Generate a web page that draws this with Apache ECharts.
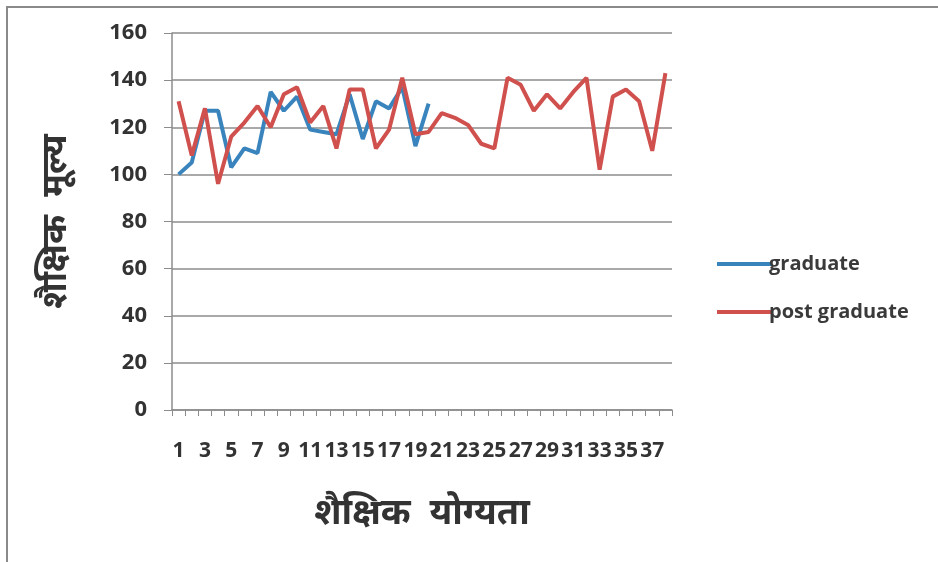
<!DOCTYPE html>
<html>
<head>
<meta charset="utf-8">
<script src="https://cdn.jsdelivr.net/npm/echarts@6/dist/echarts.min.js"></script>
<style>
  html, body { margin: 0; padding: 0; background: #fff; }
  #chart { width: 938px; height: 562px; }
</style>
</head>
<body>
<div id="chart"></div>
<script>
  // categories 1..38
  var categories = ['1','2','3','4','5','6','7','8','9','10','11','12','13','14','15','16','17','18','19',
    '20','21','22','23','24','25','26','27','28','29','30','31','32','33','34','35','36','37','38'];

  var graduate = [100, 105, 127, 127, 103, 111, 109, 135, 127, 133, 119, 118, 117, 134, 115, 131, 128, 137, 112, 130];

  var postGraduate = [131, 108, 128, 96, 116, 122, 129, 120, 134, 137, 122, 129, 111, 136, 136, 111, 119, 141, 117, 118,
    126, 124, 121, 113, 111, 141, 138, 127, 134, 128, 135, 141, 102, 133, 136, 131, 110, 143];

  var yTicks = { min: 0, max: 160, interval: 20 };

  var tickFont = '"Open Sans", sans-serif';
  var hindiFont = '"Noto Sans", "Noto Sans Devanagari", sans-serif';

  var dom = document.getElementById('chart');
  var myChart = echarts.init(dom, null, { renderer: 'canvas' });

  var option = {
    animation: false,
    backgroundColor: '#fff',
    graphic: [{
      type: 'rect',
      shape: { x: 7, y: 7, width: 960, height: 600 },
      style: { fill: 'none', stroke: '#8a8a8a', lineWidth: 2 },
      silent: true
    }],
    grid: {
      left: 172,
      right: 266,
      top: 33,
      bottom: 152
    },
    legend: {
      orient: 'vertical',
      left: 712,
      top: 249,
      itemWidth: 54,
      itemHeight: 4,
      itemGap: 28,
      icon: 'rect',
      textStyle: {
        fontFamily: tickFont,
        fontSize: 20,
        fontWeight: 'bold',
        color: '#3a3a3a',
        padding: [0, 0, 0, -7]
      },
      data: ['graduate', 'post graduate']
    },
    xAxis: {
      type: 'category',
      data: categories,
      boundaryGap: true,
      name: 'शैक्षिक  योग्यता',
      nameLocation: 'middle',
      nameGap: 86,
      nameTextStyle: {
        fontFamily: hindiFont,
        fontSize: 36,
        fontWeight: 'bold',
        color: '#333'
      },
      axisLine: { lineStyle: { color: '#8c8c8c', width: 1.5 } },
      axisTick: {
        show: true,
        alignWithLabel: false,
        interval: 0,
        length: 6,
        lineStyle: { color: '#8c8c8c' }
      },
      axisLabel: {
        interval: 1,
        margin: 31,
        fontFamily: tickFont,
        fontSize: 21,
        fontWeight: 'bold',
        color: '#333'
      },
      splitLine: { show: false }
    },
    yAxis: {
      type: 'value',
      min: yTicks.min,
      max: yTicks.max,
      interval: yTicks.interval,
      name: 'शैक्षिक  मूल्य',
      nameLocation: 'middle',
      nameGap: 98,
      nameRotate: 90,
      nameTextStyle: {
        fontFamily: hindiFont,
        fontSize: 35,
        fontWeight: 'bold',
        color: '#333'
      },
      axisLine: { show: true, lineStyle: { color: '#8c8c8c', width: 1.5 } },
      axisTick: { show: true, length: 8, lineStyle: { color: '#8c8c8c' } },
      axisLabel: {
        margin: 25,
        fontFamily: tickFont,
        fontSize: 22,
        fontWeight: 'bold',
        color: '#333'
      },
      splitLine: { lineStyle: { color: '#8c8c8c', width: 1.5 } }
    },
    series: [
      {
        name: 'graduate',
        type: 'line',
        data: graduate,
        symbol: 'none',
        color: '#3a84bd',
        lineStyle: { width: 4, color: '#3a84bd' },
        z: 3
      },
      {
        name: 'post graduate',
        type: 'line',
        data: postGraduate,
        symbol: 'none',
        color: '#d0504d',
        lineStyle: { width: 4, color: '#d0504d' },
        z: 4
      }
    ]
  };

  myChart.setOption(option, true);
</script>
</body>
</html>
